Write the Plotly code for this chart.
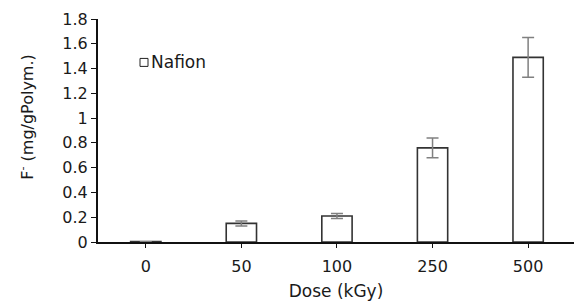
import plotly.graph_objects as go

doses = ["0", "50", "100", "250", "500"]
fluoride = [0.003, 0.15, 0.21, 0.76, 1.49]
errors = [0.0, 0.02, 0.02, 0.08, 0.16]
series_name = "Nafion"
y_ticks = [0, 0.2, 0.4, 0.6, 0.8, 1, 1.2, 1.4, 1.6, 1.8]

FONT = "DejaVu Sans, Liberation Sans, Arial, sans-serif"
TXT = "#1a1a1a"

fig = go.Figure()
fig.add_trace(go.Bar(
    x=doses, y=fluoride, name=series_name, width=0.317,
    marker=dict(color="white", line=dict(color="#333333", width=1.6)),
    error_y=dict(type="data", array=errors, color="#808080", thickness=1.5, width=6),
    showlegend=False,
))

fig.update_layout(
    width=574, height=304,
    margin=dict(l=98, r=0, t=19, b=62),
    plot_bgcolor="white", paper_bgcolor="white",
    font=dict(family=FONT, size=16, color=TXT),
    xaxis=dict(
        type="category", range=[-0.5, 4.48],
        showline=True, linecolor="#111", linewidth=2,
        ticks="outside", ticklen=4, tickcolor="#111", tickwidth=1,
        showgrid=False, zeroline=False, tickfont=dict(size=16),
        ticklabelstandoff=5,
        title=dict(text="Dose (kGy)", font=dict(size=17), standoff=10),
    ),
    yaxis=dict(
        range=[0, 1.8], tickvals=y_ticks, ticktext=[f"{v:g}" for v in y_ticks],
        showline=True, linecolor="#111", linewidth=2,
        ticks="outside", ticklen=5, tickcolor="#111", tickwidth=1,
        showgrid=False, zeroline=False, tickfont=dict(size=16),
    ),
)

# y-axis title placed like the reference (slightly above centre)
fig.add_annotation(xref="paper", yref="paper", x=(27 - 98) / 476, y=(242.5 - 117) / 223.5,
                   text="F<sup>-</sup> (mg/gPolym.)", textangle=-90, showarrow=False,
                   xanchor="center", yanchor="middle", font=dict(size=16, color=TXT))

# legend key: square + label
fig.add_shape(type="rect", xref="paper", yref="paper",
              x0=(140 - 98) / 476, x1=(148 - 98) / 476,
              y0=(242.5 - 66.5) / 223.5, y1=(242.5 - 58.5) / 223.5,
              line=dict(color="#222", width=1), fillcolor="white")
fig.add_annotation(xref="paper", yref="paper", x=(148.5 - 98) / 476, y=(242.5 - 62.5) / 223.5,
                   text=series_name, showarrow=False, xanchor="left", yanchor="middle",
                   font=dict(size=17, color=TXT))

fig.write_html("out.html", config={"displayModeBar": False},
               post_script="document.body.style.margin='0';")
